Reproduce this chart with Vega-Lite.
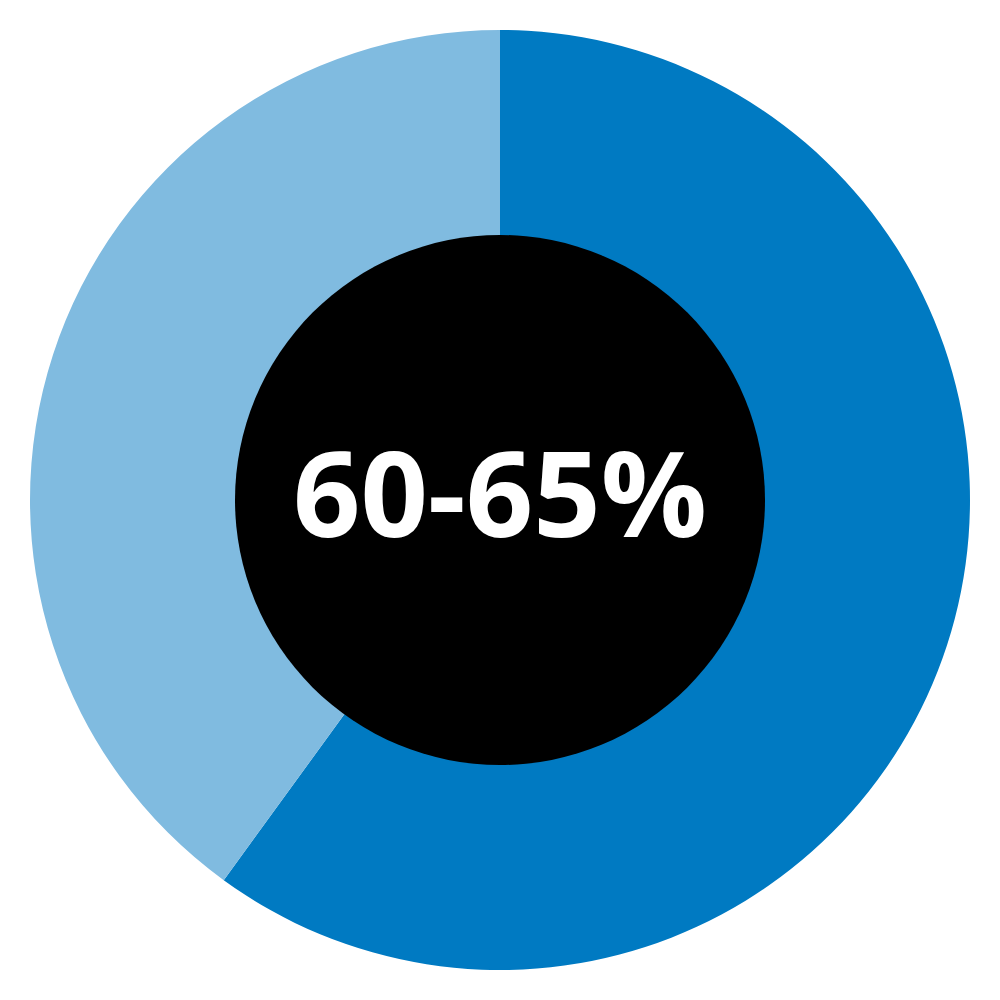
{
  "$schema": "https://vega.github.io/schema/vega-lite/v6.json",
  "width": 1000,
  "height": 1000,
  "autosize": {"type": "fit", "contains": "padding"},
  "background": "white",
  "view": {"stroke": null},
  "resolve": {"scale": {"theta": "independent"}},
  "layer": [
    {
      "data": {
        "values": [
          {"part": "share", "value": 60, "rank": 1},
          {"part": "rest", "value": 40, "rank": 2}
        ]
      },
      "mark": {"type": "arc", "outerRadius": 470, "innerRadius": 0},
      "encoding": {
        "theta": {"field": "value", "type": "quantitative", "stack": true},
        "order": {"field": "rank", "type": "quantitative"},
        "color": {
          "field": "part",
          "type": "nominal",
          "scale": {"domain": ["share", "rest"], "range": ["#007AC2", "#80BBE0"]},
          "legend": null
        }
      }
    },
    {
      "data": {"values": [{"value": 1}]},
      "mark": {"type": "arc", "outerRadius": 265, "innerRadius": 0, "color": "black"},
      "encoding": {
        "theta": {"field": "value", "type": "quantitative"}
      }
    },
    {
      "data": {"values": [{"label": "60-65%"}]},
      "mark": {
        "type": "text",
        "color": "white",
        "font": "Open Sans",
        "fontWeight": "bold",
        "fontSize": 118,
        "align": "center",
        "baseline": "middle",
        "dy": 2
      },
      "encoding": {
        "text": {"field": "label", "type": "nominal"}
      }
    }
  ]
}
